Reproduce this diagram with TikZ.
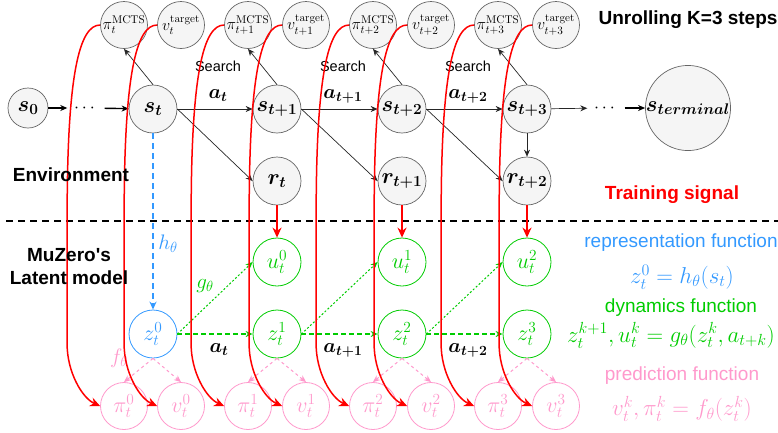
\RequirePackage{fix-cm}
\documentclass[tikz,border=0pt]{standalone}
\usepackage{amsmath}
\usepackage[no-math]{fontspec}
\newfontfamily\lsans{Liberation Sans}
\usetikzlibrary{arrows.meta,calc}
\definecolor{ngray}{HTML}{F5F5F5}
\definecolor{ndraw}{HTML}{666666}
\definecolor{mgreen}{HTML}{00CC00}
\definecolor{mblue}{HTML}{3399FF}
\definecolor{mpink}{HTML}{FF99CC}
\definecolor{mred}{HTML}{FF0000}
\begin{document}
\begin{tikzpicture}[x=1pt,y=-1pt,
  envnode/.style={circle,draw=ndraw,fill=ngray,line width=0.7pt,minimum size=48pt,inner sep=0pt,font=\fontsize{22}{26}\selectfont},
  topnode/.style={envnode,minimum size=47pt,font=\fontsize{16}{18}\selectfont},
  gnode/.style={circle,draw=mgreen,fill=white,text=mgreen,line width=0.8pt,minimum size=48pt,inner sep=0pt,font=\fontsize{22}{26}\selectfont},
  bnode/.style={gnode,draw=mblue,text=mblue},
  pnode/.style={gnode,draw=mpink,text=mpink,minimum size=47pt},
  blk/.style={draw=black!85,line width=0.7pt,-{Stealth[length=7pt,width=6pt]}},
  blkthick/.style={draw=black,line width=1.4pt,-{Stealth[length=7pt,width=6pt]}},
  redc/.style={draw=mred,line width=1.5pt,-{Stealth[length=10pt,width=9pt]}},
  bluearr/.style={draw=mblue,line width=1.5pt,dash pattern=on 6pt off 4pt,-{Stealth[length=8pt,width=7pt]}},
  gdash/.style={draw=mgreen,line width=1.1pt,dash pattern=on 5pt off 3pt,-{Stealth[length=7pt,width=6pt]}},
  gdot/.style={draw=mgreen,line width=1pt,dash pattern=on 2pt off 2pt,-{Stealth[length=7pt,width=6pt]}},
  pdot/.style={draw=mpink,line width=1pt,dash pattern=on 3pt off 3pt,-{Stealth[length=7pt,width=6pt]}},
  mlab/.style={font=\fontsize{20}{24}\selectfont,inner sep=0pt},
  flab/.style={font=\fontsize{21}{24}\selectfont,inner sep=0pt},
  search/.style={font=\lsans\fontsize{14.5}{17}\selectfont,inner sep=0pt},
  big/.style={font=\lsans\bfseries\fontsize{19}{23}\selectfont,inner sep=0pt,align=center},
  legt/.style={font=\lsans\fontsize{19}{22}\selectfont,inner sep=0pt},
  legm/.style={font=\fontsize{23}{26}\selectfont,inner sep=0pt},
  dotsn/.style={inner sep=0pt,minimum width=37pt,minimum height=10pt,font=\fontsize{18}{20}\selectfont}
]
\useasboundingbox (0,0) rectangle (778,432);

% top row targets
\node[topnode] (piM0) at (124,25) {$\pi_{t}^{\mathrm{MCTS}}$};
\node[topnode] (vT0)  at (181,25) {$v_{t}^{\mathrm{target}}$};
\node[topnode] (piM1) at (248,25) {$\pi_{t+1}^{\mathrm{MCTS}}$};
\node[topnode] (vT1)  at (306,25) {$v_{t+1}^{\mathrm{target}}$};
\node[topnode] (piM2) at (373,25) {$\pi_{t+2}^{\mathrm{MCTS}}$};
\node[topnode] (vT2)  at (431,25) {$v_{t+2}^{\mathrm{target}}$};
\node[topnode] (piM3) at (498,25) {$\pi_{t+3}^{\mathrm{MCTS}}$};
\node[topnode] (vT3)  at (556,25) {$v_{t+3}^{\mathrm{target}}$};

% environment states
\node[envnode,minimum size=40pt] (s0) at (28,108) {$\boldsymbol{s_0}$};
\node[dotsn] (d1) at (86,108) {$\cdots$};
\node[envnode] (st)  at (153,109) {$\boldsymbol{s_t}$};
\node[envnode] (st1) at (277,109) {$\boldsymbol{s_{t+1}}$};
\node[envnode] (st2) at (402,109) {$\boldsymbol{s_{t+2}}$};
\node[envnode] (st3) at (527,109) {$\boldsymbol{s_{t+3}}$};
\node[dotsn] (d2) at (606,108) {$\cdots$};
\node[envnode,minimum size=66pt] (sterm) at (688,108) {$\boldsymbol{s_{terminal}}$};

% rewards
\node[envnode] (rt)  at (277,181) {$\boldsymbol{r_t}$};
\node[envnode] (rt1) at (402,181) {$\boldsymbol{r_{t+1}}$};
\node[envnode] (rt2) at (527,181) {$\boldsymbol{r_{t+2}}$};

% latent
\node[gnode] (u0) at (277,262) {$u_t^0$};
\node[gnode] (u1) at (402,262) {$u_t^1$};
\node[gnode] (u2) at (527,262) {$u_t^2$};
\node[bnode] (z0) at (153,334) {$z_t^0$};
\node[gnode] (z1) at (277,334) {$z_t^1$};
\node[gnode] (z2) at (402,334) {$z_t^2$};
\node[gnode] (z3) at (527,334) {$z_t^3$};

% predictions
\node[pnode] (p0) at (124,406) {$\pi_t^0$};
\node[pnode] (v0) at (181,406) {$v_t^0$};
\node[pnode] (p1) at (248,406) {$\pi_t^1$};
\node[pnode] (v1) at (306,406) {$v_t^1$};
\node[pnode] (p2) at (373,406) {$\pi_t^2$};
\node[pnode] (v2) at (431,406) {$v_t^2$};
\node[pnode] (p3) at (498,406) {$\pi_t^3$};
\node[pnode] (v3) at (556,406) {$v_t^3$};

% environment edges
\draw[blkthick] (s0) -- (d1);
\draw[blkthick] (d1) -- (st);
\draw[blk] (st) -- (st1);
\draw[blk] (st1) -- (st2);
\draw[blk] (st2) -- (st3);
\draw[blk] (st3) -- (d2);
\draw[blkthick] (d2) -- (sterm);
\draw[blk] (st.east) -- (rt.west);
\draw[blk] (st1.east) -- (rt1.west);
\draw[blk] (st2.east) -- (rt2.west);
\draw[blk] (st3) -- (rt2);
\draw[blk] (st.north) -- (piM0.south);
\draw[blk] (st1.north) -- (piM1.south);
\draw[blk] (st2.north) -- (piM2.south);
\draw[blk] (st3.north) -- (piM3.south);

\node[mlab] (la0) at (218,96) {$\boldsymbol{a_t}$};
\node[mlab] (la1) at (343,96) {$\boldsymbol{a_{t+1}}$};
\node[mlab] (la2) at (468,96) {$\boldsymbol{a_{t+2}}$};
\node[search] (se0) at (218,66) {Search};
\node[search] (se1) at (343,66) {Search};
\node[search] (se2) at (468,66) {Search};

% separator
\coordinate (sepL) at (6,221);
\coordinate (sepR) at (778,221);
\draw[line width=1.4pt,dash pattern=on 7pt off 5pt] (sepL) -- (sepR);

% latent edges
\draw[bluearr] (st) -- (z0);
\node[flab,text=mblue] (hth) at (168,244) {$h_\theta$};
\draw[gdash] (z0) -- (z1);
\draw[gdash] (z1) -- (z2);
\draw[gdash] (z2) -- (z3);
\draw[gdot] (z0.east) -- (u0.west);
\draw[gdot] (z1.east) -- (u1.west);
\draw[gdot] (z2.east) -- (u2.west);
\node[flab,text=mgreen] (gth) at (205,286) {$g_\theta$};
\node[mlab] (lb0) at (219,350) {$\boldsymbol{a_t}$};
\node[mlab] (lb1) at (343,350) {$\boldsymbol{a_{t+1}}$};
\node[mlab] (lb2) at (468,350) {$\boldsymbol{a_{t+2}}$};
\foreach \z/\p/\v in {z0/p0/v0, z1/p1/v1, z2/p2/v2, z3/p3/v3} {
  \draw[pdot] (\z.south) -- (\p.north);
  \draw[pdot] (\z.south) -- (\v.north);
}
\node[flab,text=mpink] (fth) at (119,358) {$f_\theta$};

% reward training signal
\draw[redc] (rt) -- (u0);
\draw[redc] (rt1) -- (u1);
\draw[redc] (rt2) -- (u2);

% red target curves
\foreach \a/\b in {piM0/p0, vT0/v0, piM1/p1, vT1/v1, piM2/p2, vT2/v2, piM3/p3, vT3/v3} {
  \draw[redc] (\a.west) .. controls +(-21,0) and +(0,-140) .. ($(\a.west)+(-33,190)$)
     -- ($(\b.west)+(-33,-62)$) .. controls +(0,28) and +(-18,-8) .. (\b.west);
}

% labels
\node[big] (unroll) at (688,20) {Unrolling K=3 steps};
\node[big] (envl) at (71,175) {Environment};
\node[big,text=mred] (train) at (672,195) {Training signal};
\node[big] (muz) at (69,267) {MuZero's\\Latent model};

% legend
\node[legt,text=mblue] (rep) at (681,243) {representation function};
\node[legm,text=mblue] (repf) at (682,277) {$z_t^0 = h_\theta(s_t)$};
\node[legt,text=mgreen] (dyn) at (681,308) {dynamics function};
\node[legm,text=mgreen] (dynf) at (671,335) {$z_t^{k+1}, u_t^k = g_\theta(z_t^k, a_{t+k})$};
\node[legt,text=mpink] (pred) at (682,376) {prediction function};
\node[legm,text=mpink] (predf) at (682,409) {$v_t^k, \pi_t^k = f_\theta(z_t^k)$};
\end{tikzpicture}
\end{document}
